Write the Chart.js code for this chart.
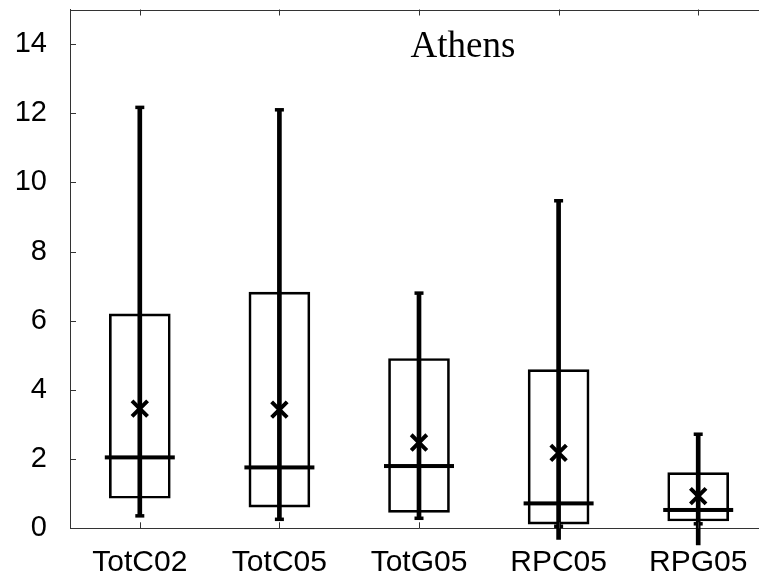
<!DOCTYPE html>
<html>
<head>
<meta charset="utf-8">
<script src="https://cdn.jsdelivr.net/npm/chart.js@4.4.1/dist/chart.umd.min.js"></script>
<style>
  html, body { margin: 0; padding: 0; background: #fff; overflow: hidden; width: 759px; height: 577px; }
  #wrap { width: 759px; height: 577px; overflow: hidden; position: relative; }
  #c { position: absolute; left: 0; top: 0; }
</style>
</head>
<body>
<div id="wrap"><canvas id="c" width="768" height="577"></canvas></div>
<script>
// Box-plot summary for each scenario
const categories  = ['TotC02', 'TotC05', 'TotG05', 'RPC05', 'RPG05'];
const whiskerHigh = [12.17, 12.10, 6.80, 9.47, 2.72];
const boxHigh     = [6.20, 6.83, 4.91, 4.59, 1.61];
const medians     = [2.05, 1.76, 1.80, 0.72, 0.53];
const means       = [3.46, 3.43, 2.48, 2.18, 0.93];
const boxLow      = [0.87, 0.61, 0.46, 0.12, 0.21];
const whiskerLow  = [0.36, 0.26, 0.29, 0.06, 0.13];   // lower cap
const tailLow     = [0.36, 0.26, 0.29, -0.32, -0.48]; // end of the lower whisker line
const yTicks      = [0, 2, 4, 6, 8, 10, 12, 14];
const panelTitle  = 'Athens';

Chart.defaults.font.family = "'Liberation Sans', Arial, sans-serif";
Chart.defaults.font.size = 29;
Chart.defaults.color = '#000';

const AXIS_COLOR = '#333';

function noPadding(s) {
  s.paddingTop = 0;
  s.paddingBottom = 0;
  s.paddingLeft = 0;
  s.paddingRight = 0;
}

// Medians, whisker caps, inner tick marks, frame top and panel label
const boxDecor = {
  id: 'boxDecor',
  afterDatasetsDraw(chart) {
    const ctx = chart.ctx;
    const xs = chart.scales.x, ys = chart.scales.y;
    const area = chart.chartArea;
    ctx.save();
    ctx.fillStyle = '#000';
    categories.forEach((c, i) => {
      const x = xs.getPixelForValue(i);
      // median bar
      const ym = ys.getPixelForValue(medians[i]);
      ctx.fillRect(x - 35, ym - 2, 70, 4);
      // whisker caps
      [whiskerHigh[i], whiskerLow[i]].forEach(v => {
        const yc = ys.getPixelForValue(v);
        ctx.fillRect(x - 4.5, yc - 1.75, 9, 3.5);
      });
    });
    // inner tick marks
    ctx.strokeStyle = AXIS_COLOR;
    ctx.lineWidth = 1;
    ctx.beginPath();
    yTicks.forEach(t => {
      const y = Math.round(ys.getPixelForValue(t)) + 0.5;
      ctx.moveTo(area.left, y);
      ctx.lineTo(area.left + 6, y);
    });
    categories.forEach((c, i) => {
      const x = Math.round(xs.getPixelForValue(i)) + 0.5;
      ctx.moveTo(x, area.top);
      ctx.lineTo(x, area.top + 6);
      ctx.moveTo(x, area.bottom);
      ctx.lineTo(x, area.bottom - 6);
    });
    // top frame line
    ctx.moveTo(area.left, Math.round(area.top) + 0.5);
    ctx.lineTo(area.right, Math.round(area.top) + 0.5);
    ctx.stroke();
    // panel label
    ctx.fillStyle = '#000';
    ctx.font = "37px 'Liberation Serif', 'Times New Roman', serif";
    ctx.textAlign = 'center';
    ctx.textBaseline = 'alphabetic';
    ctx.fillText(panelTitle, 463, 57);
    ctx.restore();
  }
};

new Chart(document.getElementById('c'), {
  type: 'bar',
  data: {
    labels: categories,
    datasets: [
      {
        label: 'box',
        data: boxLow.map((v, i) => [v, boxHigh[i]]),
        backgroundColor: 'rgba(255,255,255,0)',
        borderColor: '#000',
        borderWidth: 2,
        borderSkipped: false,
        barThickness: 61,
        grouped: false,
        order: 3
      },
      {
        label: 'whisker',
        data: tailLow.map((v, i) => [v, whiskerHigh[i]]),
        backgroundColor: '#000',
        borderWidth: 0,
        barThickness: 4,
        grouped: false,
        clip: false,
        order: 2
      },
      {
        type: 'line',
        label: 'mean',
        data: means,
        showLine: false,
        pointStyle: 'crossRot',
        pointRadius: 11,
        pointHoverRadius: 11,
        pointBorderWidth: 4,
        pointBorderColor: '#000',
        pointBackgroundColor: '#000',
        order: 1
      }
    ]
  },
  options: {
    responsive: false,
    animation: false,
    devicePixelRatio: 1,
    layout: { autoPadding: false, padding: { top: 9.5, right: 0, left: 0, bottom: 0 } },
    plugins: {
      legend: { display: false },
      tooltip: { enabled: false },
      title: { display: false }
    },
    scales: {
      x: {
        type: 'category',
        offset: true,
        grid: { display: false, drawTicks: false },
        border: { display: true, color: AXIS_COLOR, width: 1 },
        ticks: { padding: 16, maxRotation: 0, autoSkip: false, color: '#000', font: { size: 30 } },
        afterFit(s) { s.height = 48.7; noPadding(s); }
      },
      y: {
        min: 0,
        max: 15,
        grid: { display: false, drawTicks: false },
        border: { display: true, color: AXIS_COLOR, width: 1 },
        ticks: { stepSize: 2, includeBounds: false, padding: 23, color: '#000', font: { size: 29 } },
        afterFit(s) { s.width = 70; noPadding(s); }
      }
    }
  },
  plugins: [boxDecor]
});
</script>
</body>
</html>
